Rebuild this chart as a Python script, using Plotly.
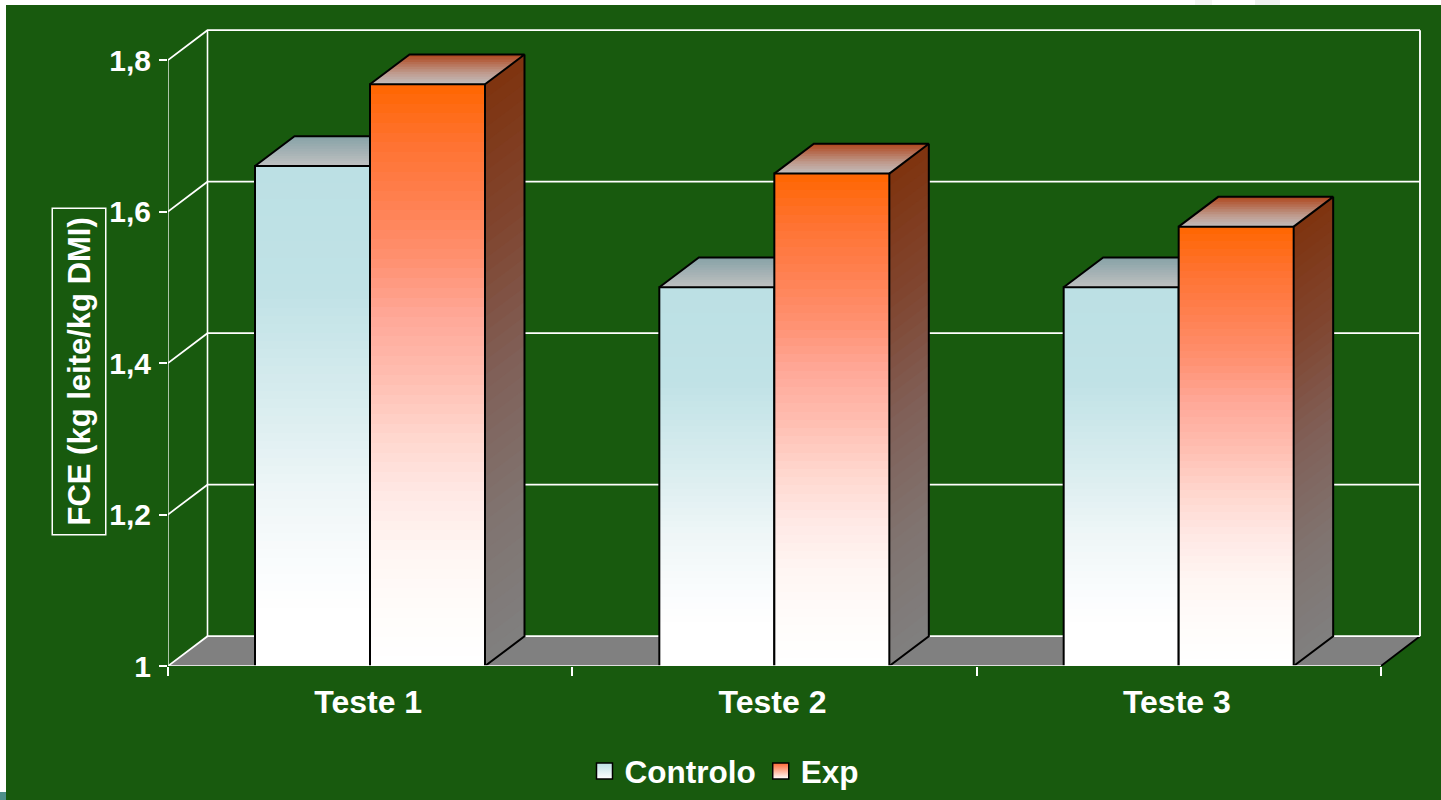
import plotly.graph_objects as go

categories = ["Teste 1", "Teste 2", "Teste 3"]
controlo = [1.66, 1.50, 1.50]
exp = [1.768, 1.65, 1.58]
y_ticks = [1.0, 1.2, 1.4, 1.6, 1.8]
y_labels = ["1", "1,2", "1,4", "1,6", "1,8"]

GREEN = "#185A0E"
WHITE = "#FFFFFF"
FONT = "Liberation Sans"

L, R_EDGE, T, B_EDGE = 168, 1432, 18, 666
cat_px = (1381 - 168) / 3
unit_px = (666 - 60) / 0.8
x_max = (R_EDGE - L) / cat_px
y_max = 1 + (B_EDGE - T) / unit_px
x_wall = (1420 - L) / cat_px
DX = 39.5 / cat_px
DY = 29.8 / unit_px
BW = 115 / cat_px
LABEL_SHIFT = 2 / cat_px
N = 60


def px_x(p):
    return (p - L) / (R_EDGE - L)


def px_y(p):
    return (B_EDGE - p) / (B_EDGE - T)


def hexrgb(c):
    return tuple(int(c[i:i + 2], 16) for i in (1, 3, 5))


def ramp(stops, f):
    for (a, ca), (b, cb) in zip(stops, stops[1:]):
        if f <= b:
            t = 0 if b == a else (f - a) / (b - a)
            p, q = hexrgb(ca), hexrgb(cb)
            return "rgb(%d,%d,%d)" % tuple(round(p[i] + (q[i] - p[i]) * t) for i in range(3))
    return "rgb(%d,%d,%d)" % hexrgb(stops[-1][1])


FRONT = {
    "c": [(0, "#BCE0E4"), (0.25, "#C0E2E6"), (0.5, "#DCEEF0"), (0.65, "#EEF6F7"),
          (0.8, "#FAFCFD"), (0.9, "#FFFFFF"), (1, "#FFFFFF")],
    "e": [(0, "#FF6600"), (0.1, "#FF7230"), (0.2, "#FF8050"), (0.3, "#FF9070"), (0.4, "#FFA898"),
          (0.5, "#FFBDB0"), (0.6, "#FFD5CC"), (0.7, "#FFE8E4"), (0.8, "#FFF5F2"),
          (0.9, "#FFFCFA"), (1, "#FFFFFF")],
}
SIDE = {"e": [(0, "#7F3410"), (0.25, "#80452F"), (0.5, "#806058"), (0.75, "#807470"), (1, "#808080")]}
TOP = {
    "c": [(0, "#89A3A8"), (1, "#C2C2C2")],
    "e": [(0, "#B04C24"), (0.6, "#BF9C90"), (1, "#C2C2C2")],
}

fig = go.Figure()


def poly(xs, ys, color, z):
    fig.add_trace(go.Scatter(x=xs, y=ys, mode="lines", fill="toself", fillcolor=color,
                             line=dict(width=0, color=color), showlegend=False,
                             hoverinfo="skip", zorder=z, cliponaxis=False))


def line(xs, ys, color, w, z):
    fig.add_trace(go.Scatter(x=xs, y=ys, mode="lines", line=dict(color=color, width=w),
                             showlegend=False, hoverinfo="skip", zorder=z, cliponaxis=False))


# floor
poly([0, DX, x_wall, 3, 0], [1, 1 + DY, 1 + DY, 1, 1], "#808080", 0)
line([3, x_wall], [1, 1 + DY], "#000000", 1.8, 0)

# walls and grid
for t in y_ticks:
    line([0, DX, x_wall], [t, t + DY, t + DY], WHITE, 1.7, 0)
line([DX, DX], [1 + DY, 1.8 + DY], WHITE, 1.6, 0)
line([x_wall, x_wall], [1 + DY, 1.8 + DY], WHITE, 1.9, 0)


def bar_faces(xl, v, key, z):
    xr = xl + BW
    n = 12
    for i in range(n):
        f = i / n
        x0 = xl + DX * (1 - f)
        yy = v + DY * (1 - f)
        poly([x0, x0 + BW, xr, xl, x0], [yy, yy, v, v, yy], ramp(TOP[key], f), z)
    if key == "e":
        for i in range(40):
            f = i / 40
            a = v + (1 - v) * f
            poly([xr, xr + DX, xr + DX, xr, xr], [a, a + DY, 1 + DY, 1, a], ramp(SIDE[key], f), z)


def outline(xl, v, z, side):
    xr = xl + BW
    line([xl, xl, xr, xr], [1, v, v, 1], "#000000", 2, z)
    line([xl, xl + DX, xr + DX, xr], [v, v + DY, v + DY, v], "#000000", 2, z)
    if side:
        line([xr + DX, xr + DX, xr], [v + DY, 1 + DY, 1], "#000000", 2, z)


def front_bar(name, values, off, key, z):
    xs, bases, hs, cols = [], [], [], []
    for i, v in enumerate(values):
        for k in range(N):
            top = v - (v - 1) * k / N
            low = v - (v - 1) * (k + 1) / N
            xs.append(i + off + BW / 2)
            bases.append(low)
            hs.append(top - low)
            cols.append(ramp(FRONT[key], (k + 0.5) / N))
    fig.add_trace(go.Bar(x=xs, y=hs, base=bases, width=BW, name=name, showlegend=False,
                         marker=dict(color=cols, line=dict(width=0)), hoverinfo="skip", zorder=z))


OFF_C = 87 / cat_px
OFF_E = 202 / cat_px

for i, v in enumerate(controlo):
    bar_faces(i + OFF_C, v, "c", 1)
front_bar("Controlo", controlo, OFF_C, "c", 1)
for i, v in enumerate(controlo):
    outline(i + OFF_C, v, 1, False)

for i, v in enumerate(exp):
    bar_faces(i + OFF_E, v, "e", 2)
front_bar("Exp", exp, OFF_E, "e", 2)
for i, v in enumerate(exp):
    outline(i + OFF_E, v, 2, True)

# front axes
line([0, 3], [1, 1], WHITE, 1.7, 3)
line([0, 0], [1, 1.8], WHITE, 1.3, 3)

# legend entries
for nm, top_c in (("Controlo", "#BCE0E4"), ("Exp", "#FF6633")):
    fig.add_trace(go.Scatter(x=[None], y=[None], mode="markers", name=nm,
                             marker=dict(symbol="square", size=18, color=top_c,
                                         gradient=dict(type="vertical", color=WHITE),
                                         line=dict(color="#000000", width=1.5))))

fig.update_layout(
    width=1441, height=800,
    margin=dict(l=L, r=1441 - R_EDGE, t=T, b=800 - B_EDGE, pad=0, autoexpand=False),
    paper_bgcolor=GREEN, plot_bgcolor="rgba(0,0,0,0)",
    barmode="overlay", bargap=0,
    font=dict(family=FONT, color=WHITE, size=29, weight=700),
    xaxis=dict(range=[0, x_max], showgrid=False, zeroline=False, showline=False,
               tickmode="array", tickvals=[0.5 - LABEL_SHIFT, 1.5 - LABEL_SHIFT, 2.5 - LABEL_SHIFT],
               ticktext=categories, ticks="",
               ticklen=0, ticklabelstandoff=14, automargin=False,
               tickfont=dict(family=FONT, size=32, color=WHITE, weight=700),
               minor=dict(tickmode="array", tickvals=[0, 1, 2, 3], ticks="outside",
                          ticklen=9, tickwidth=1.5, tickcolor=WHITE, showgrid=False)),
    yaxis=dict(range=[1, y_max], showgrid=False, zeroline=False, showline=False,
               tickmode="array", tickvals=y_ticks, ticktext=y_labels, ticks="outside",
               ticklen=8, tickwidth=1.5, tickcolor=WHITE, ticklabelstandoff=2, automargin=False,
               tickfont=dict(family=FONT, size=30, color=WHITE, weight=700)),
    legend=dict(orientation="h", xanchor="center", yanchor="middle",
                x=px_x(724), y=px_y(771),
                bgcolor="rgba(0,0,0,0)", font=dict(family=FONT, size=31.5, color=WHITE, weight=700),
                itemwidth=30),
    annotations=[dict(text="FCE (kg leite/kg DMI)", textangle=-90, xref="paper", yref="paper",
                      x=px_x(79), y=px_y(371.5),
                      xanchor="center", yanchor="middle", showarrow=False,
                      font=dict(family=FONT, size=31, color=WHITE, weight=700),
                      bordercolor=WHITE, borderwidth=1.5, borderpad=8.5)],
    shapes=[
        dict(type="rect", xref="paper", yref="paper", layer="above", line_width=0, fillcolor=WHITE,
             x0=px_x(0), x1=px_x(6), y0=px_y(800), y1=px_y(0)),
        dict(type="rect", xref="paper", yref="paper", layer="above", line_width=0, fillcolor=WHITE,
             x0=px_x(0), x1=px_x(1441), y0=px_y(5), y1=px_y(0)),
        dict(type="rect", xref="paper", yref="paper", layer="above", line_width=0, fillcolor="#4E8F8A",
             x0=px_x(0), x1=px_x(6), y0=px_y(800), y1=px_y(792)),
        dict(type="rect", xref="paper", yref="paper", layer="above", line_width=0, fillcolor="#F3F5F3",
             x0=px_x(1195), x1=px_x(1212), y0=px_y(5), y1=px_y(0)),
        dict(type="rect", xref="paper", yref="paper", layer="above", line_width=0, fillcolor="#EEF1EE",
             x0=px_x(1255), x1=px_x(1280), y0=px_y(5), y1=px_y(0)),
    ],
)

fig.write_html("out.html", config=dict(displayModeBar=False),
               post_script="document.body.style.margin='0';document.body.style.overflow='hidden';")
